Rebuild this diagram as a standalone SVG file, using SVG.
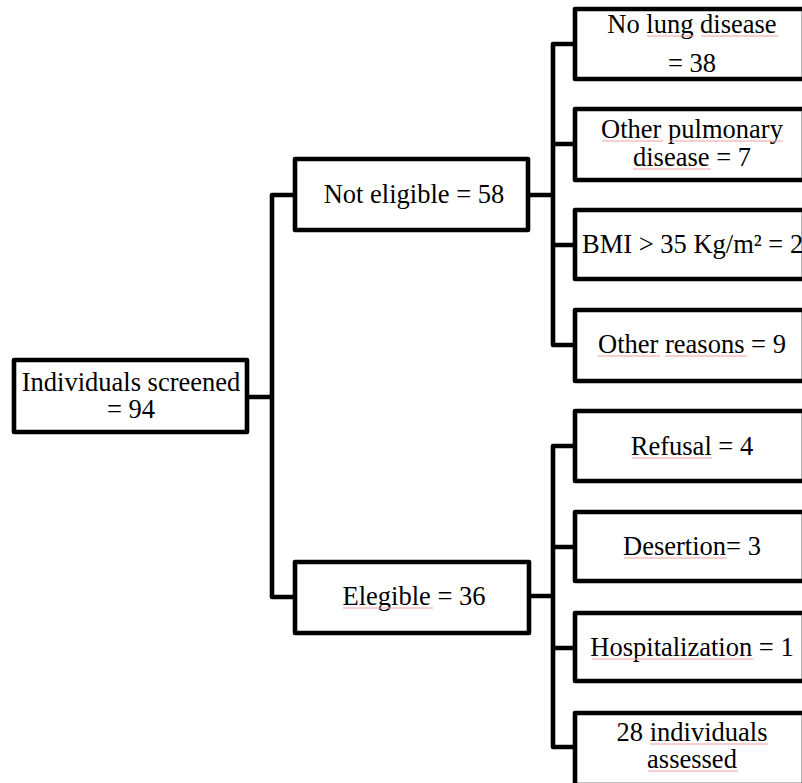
<svg xmlns="http://www.w3.org/2000/svg" width="802" height="783" viewBox="0 0 802 783">
<style>
.box{fill:#fff;stroke:#000;stroke-width:4.6;stroke-linejoin:round}
.conn{fill:none;stroke:#000;stroke-width:4.6;stroke-linejoin:round}
.t{font-family:"Liberation Serif","Times New Roman",serif;font-size:26.5px;fill:#000;text-anchor:middle}
.sp{stroke:#f2a0a0;stroke-width:1.2;fill:none}
</style>
<rect width="802" height="783" fill="#fff"/>
<g id="connectors">
<path class="conn" d="M249,397 H272 M293,195 H272 V597 H293"/>
<path class="conn" d="M530,195 H553 M575,44 H553 V345 H575 M553,144 H575 M553,245 H575"/>
<path class="conn" d="M529,596 H553 M575,446 H553 V747 H575 M553,547 H575 M553,648 H575"/>
</g>
<g id="n-screened"><rect class="box" x="14" y="360" width="233" height="72"/><text class="t" x="131" y="391">Individuals screened</text><text class="t" x="131" y="418">= 94</text></g>
<g id="n-noteligible"><rect class="box" x="295" y="159" width="233" height="71"/><text class="t" x="414" y="203">Not eligible = 58</text></g>
<g id="n-elegible"><rect class="box" x="295" y="562" width="234" height="71"/><text class="t" x="414" y="605">Elegible = 36</text></g>
<g id="n-nolung"><rect class="box" x="575" y="9" width="229" height="70"/><text class="t" x="692" y="33">No lung disease</text><text class="t" x="692" y="72">= 38</text></g>
<g id="n-otherpulm"><rect class="box" x="575" y="109" width="229" height="71"/><text class="t" x="692" y="138">Other pulmonary</text><text class="t" x="692" y="166">disease = 7</text></g>
<g id="n-bmi"><rect class="box" x="575" y="210" width="229" height="69"/><text class="t" x="582" y="253" style="text-anchor:start">BMI &gt; 35 Kg/m² = 2</text></g>
<g id="n-otherreasons"><rect class="box" x="575" y="310" width="229" height="71"/><text class="t" x="692" y="353">Other reasons = 9</text></g>
<g id="n-refusal"><rect class="box" x="575" y="411" width="229" height="70"/><text class="t" x="692" y="455">Refusal = 4</text></g>
<g id="n-desertion"><rect class="box" x="575" y="512" width="229" height="69"/><text class="t" x="692" y="555">Desertion= 3</text></g>
<g id="n-hosp"><rect class="box" x="575" y="613" width="229" height="68"/><text class="t" x="692" y="656">Hospitalization = 1</text></g>
<g id="n-assessed"><rect class="box" x="575" y="713" width="229" height="72"/><text class="t" x="692" y="741">28 individuals</text><text class="t" x="692" y="768">assessed</text></g>
<g id="spellmarks">
<path class="sp" d="M647,36 H694 M701,36 H778 M602,141 H663 M670,141 H783 M633,169 H711 M598,356 H660 M665,356 H747 M632,458 H712 M624,558 H727 M592,659 H753 M650,744 H768 M648,771 H738 M343,608 H433"/>
</g>
</svg>
